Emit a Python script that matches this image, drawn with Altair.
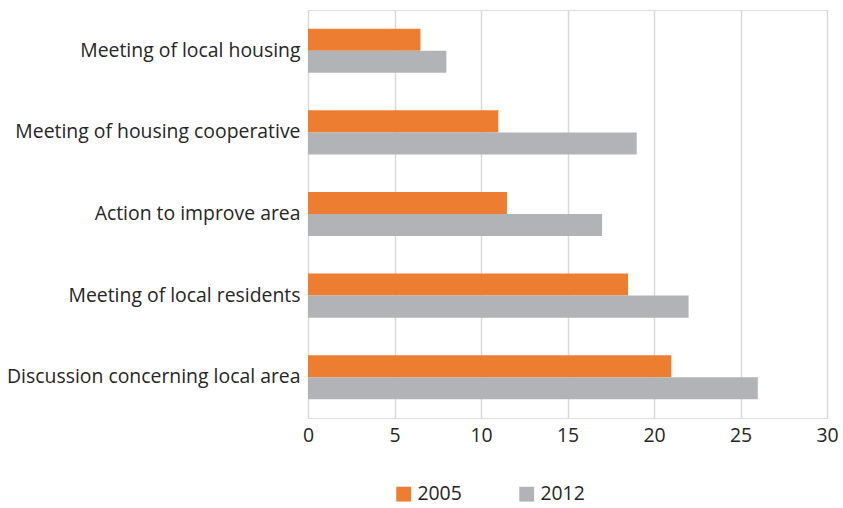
import altair as alt
import pandas as pd

categories = [
    "Meeting of local housing",
    "Meeting of housing cooperative",
    "Action to improve area",
    "Meeting of local residents",
    "Discussion concerning local area",
]
values_2005 = [6.5, 11.0, 11.5, 18.5, 21.0]
values_2012 = [8.0, 19.0, 17.0, 22.0, 26.0]
years = ["2005", "2012"]
colors = ["#ED7D31", "#B2B3B6"]

rows = []
for c, v1, v2 in zip(categories, values_2005, values_2012):
    rows.append({"category": c, "year": "2005", "value": v1})
    rows.append({"category": c, "year": "2012", "value": v2})
df = pd.DataFrame(rows)

FONT = "Open Sans"
FS = 19.4

chart = (
    alt.Chart(df)
    .mark_bar()
    .encode(
        y=alt.Y(
            "category:N",
            sort=categories,
            title=None,
            scale=alt.Scale(paddingInner=0.46, paddingOuter=0.23),
            axis=alt.Axis(
                domain=False,
                ticks=False,
                labelFontSize=FS,
                labelFont=FONT,
                labelColor="#262626",
                labelPadding=8,
                labelLimit=400,
            ),
        ),
        yOffset=alt.YOffset("year:N", sort=years, scale=alt.Scale(paddingInner=0, paddingOuter=0)),
        x=alt.X(
            "value:Q",
            title=None,
            scale=alt.Scale(domain=[0, 30], nice=False),
            axis=alt.Axis(
                values=[0, 5, 10, 15, 20, 25, 30],
                domain=False,
                ticks=False,
                grid=True,
                gridColor="#D9D9D9",
                gridWidth=1.5,
                labelFontSize=FS,
                labelFont=FONT,
                labelColor="#262626",
                labelPadding=8,
                labelFlush=False,
            ),
        ),
        color=alt.Color(
            "year:N",
            sort=years,
            scale=alt.Scale(domain=years, range=colors),
            legend=alt.Legend(
                title=None,
                orient="none",
                direction="horizontal",
                legendX=86,
                legendY=474,
                symbolType="square",
                symbolSize=220,
                symbolStrokeWidth=0,
                labelFontSize=FS,
                labelFont=FONT,
                labelColor="#262626",
                columnPadding=55,
            ),
        ),
    )
    .properties(width=519, height=408, padding={"left": 6, "top": 10, "right": 2, "bottom": 5})
    .configure_view(stroke=None)
    .configure(background="white")
)

chart.save("out.html", embed_options={"renderer": "svg", "actions": False})
